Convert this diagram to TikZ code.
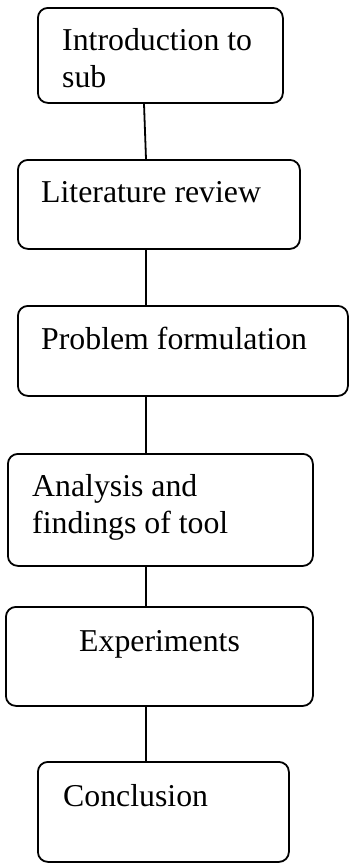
\documentclass[tikz,border=0pt]{standalone}
\usepackage{fontspec}
\setmainfont{Liberation Serif}

\tikzset{
  stage/.style={draw, rounded corners=10pt, line width=1.8pt, anchor=north west, inner sep=0pt},
  caption/.style={anchor=base west, inner sep=0pt, align=left, font=\fontsize{31.8}{37}\selectfont},
  link/.style={line width=1.8pt}
}

\begin{document}
\begin{tikzpicture}[x=1pt,y=-1pt]
  \useasboundingbox (0,0) rectangle (349,863);
  % Introduction
  \node[stage, minimum width=245pt, minimum height=95pt] (intro) at (37,7) {};
  \node[caption] (introtxt) at (62,87) {Introduction to\\sub};
  % Literature
  \node[stage, minimum width=282pt, minimum height=89pt] (lit) at (17,159) {};
  \node[caption] (littxt) at (41,202) {Literature review};
  % Problem
  \node[stage, minimum width=330pt, minimum height=90pt] (prob) at (17,305) {};
  \node[caption] (probtxt) at (41,349) {Problem formulation};
  % Analysis
  \node[stage, minimum width=305pt, minimum height=112pt] (anal) at (7,453) {};
  \node[caption] (analtxt) at (32,533) {Analysis and\\findings of tool};
  % Experiments
  \node[stage, minimum width=307pt, minimum height=99pt] (expt) at (5,606) {};
  \node[caption] (expttxt) at (79,651) {Experiments};
  % Conclusion
  \node[stage, minimum width=251pt, minimum height=100pt] (concl) at (37,761) {};
  \node[caption] (concltxt) at (63,806) {Conclusion};
  % links
  \draw[link] (144,0 |- intro.south) -- (146,0 |- lit.north);
  \draw[link] (146,0 |- lit.south) -- (146,0 |- prob.north);
  \draw[link] (146,0 |- prob.south) -- (146,0 |- anal.north);
  \draw[link] (146,0 |- anal.south) -- (146,0 |- expt.north);
  \draw[link] (146,0 |- expt.south) -- (146,0 |- concl.north);
\end{tikzpicture}
\end{document}
